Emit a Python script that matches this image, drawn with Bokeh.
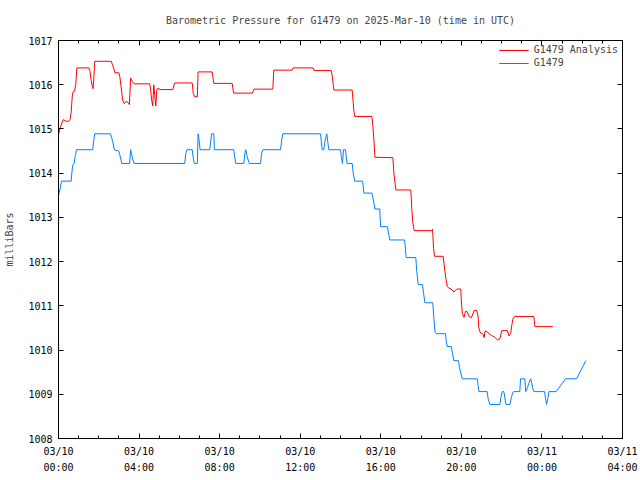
from bokeh.plotting import figure
from bokeh.models import (LinearAxis, FixedTicker, Range1d, Legend, LegendItem,
                          CustomLabelingPolicy)
from bokeh.embed import file_html
from bokeh.resources import INLINE

# ---- data (hours since 2025-03-10 00:00 UTC, pressure in mb) ----
analysis_hours = [0.00, 0.10, 0.18, 0.23, 0.35, 0.50, 0.58, 0.63, 0.68, 0.73, 0.80, 0.86, 0.91,
                  1.51, 1.56, 1.62, 1.67, 1.72, 1.76, 1.80, 2.62, 2.68, 2.75, 2.80, 3.00, 3.05,
                  3.10, 3.15, 3.20, 3.27, 3.35, 3.45, 3.52, 3.58, 3.66, 3.75, 4.53, 4.57, 4.63,
                  4.68, 4.73, 4.78, 4.83, 4.88, 4.93, 5.05, 5.68, 5.76, 6.64, 6.69, 6.76, 6.89,
                  6.93, 7.63, 7.71, 8.62, 8.67, 8.70, 9.63, 9.70, 10.64, 10.69, 11.60, 11.65,
                  12.64, 12.69, 13.54, 13.59, 13.67, 14.58, 14.63, 14.66, 14.71, 15.56, 15.61,
                  15.66, 15.71, 16.60, 16.65, 16.70, 16.75, 17.49, 17.54, 17.59, 17.66, 18.55,
                  18.57, 18.62, 18.67, 19.10, 19.15, 19.22, 19.30, 19.38, 19.50, 19.63, 19.72,
                  19.80, 19.97, 20.00, 20.05, 20.13, 20.21, 20.30, 20.38, 20.50, 20.63, 20.76,
                  20.83, 20.86, 20.93, 21.02, 21.08, 21.13, 21.18, 21.30, 21.38, 21.50, 21.63,
                  21.79, 21.91, 22.01, 22.13, 22.28, 22.36, 22.45, 22.50, 22.56, 22.64, 23.60,
                  23.65, 24.54]
analysis_mb = [1014.87, 1015.05, 1015.15, 1015.21, 1015.18, 1015.17, 1015.22, 1015.38, 1015.72,
               1015.85, 1015.86, 1016.02, 1016.38, 1016.38, 1016.30, 1016.10, 1015.98, 1015.91,
               1016.20, 1016.53, 1016.53, 1016.45, 1016.36, 1016.27, 1016.27, 1016.17, 1015.98,
               1015.79, 1015.63, 1015.57, 1015.62, 1015.60, 1015.55, 1016.15, 1016.08, 1016.02,
               1016.02, 1015.90, 1015.64, 1015.52, 1016.00, 1015.75, 1015.52, 1015.88, 1015.92,
               1015.89, 1015.89, 1016.04, 1016.04, 1015.80, 1015.73, 1015.73, 1016.29, 1016.29,
               1016.03, 1016.03, 1015.88, 1015.81, 1015.81, 1015.90, 1015.90, 1016.33, 1016.33,
               1016.38, 1016.38, 1016.32, 1016.32, 1016.20, 1015.88, 1015.88, 1015.60, 1015.42,
               1015.28, 1015.28, 1015.05, 1014.75, 1014.36, 1014.35, 1014.00, 1013.80, 1013.62,
               1013.62, 1013.20, 1012.88, 1012.70, 1012.70, 1012.73, 1012.30, 1012.12, 1012.12,
               1011.90, 1011.65, 1011.44, 1011.40, 1011.38, 1011.31, 1011.36, 1011.38, 1011.38,
               1011.10, 1010.82, 1010.74, 1010.88, 1010.86, 1010.76, 1010.73, 1010.89, 1010.90,
               1010.77, 1010.52, 1010.40, 1010.38, 1010.36, 1010.28, 1010.43, 1010.41, 1010.36,
               1010.33, 1010.30, 1010.23, 1010.25, 1010.44, 1010.44, 1010.44, 1010.32, 1010.38,
               1010.55, 1010.70, 1010.76, 1010.76, 1010.53, 1010.53]

obs_hours = [0.00, 0.07, 0.15, 0.63, 0.66, 0.71, 0.78, 0.81, 0.85, 0.89, 1.70, 1.73, 1.80, 2.58,
             2.64, 2.70, 2.76, 2.80, 2.99, 3.04, 3.09, 3.14, 3.53, 3.58, 3.63, 3.68, 3.75, 6.27,
             6.32, 6.38, 6.64, 6.69, 6.74, 6.89, 6.93, 6.98, 7.03, 7.51, 7.60, 7.71, 7.74, 8.70,
             8.75, 8.80, 9.20, 9.25, 9.30, 9.35, 9.47, 10.03, 10.08, 10.15, 11.02, 11.08, 11.14,
             13.01, 13.05, 13.09, 13.17, 13.22, 13.27, 13.32, 13.37, 13.42, 14.00, 14.05, 14.10,
             14.15, 14.25, 14.29, 14.33, 14.58, 14.63, 14.71, 15.10, 15.16, 15.56, 15.62, 15.67,
             15.71, 15.95, 15.99, 16.33, 16.38, 16.45, 17.18, 17.22, 17.26, 17.74, 17.78, 17.86,
             18.07, 18.12, 18.19, 18.58, 18.63, 18.70, 18.75, 19.21, 19.25, 19.30, 19.50, 19.55,
             19.63, 19.86, 19.91, 20.04, 20.79, 20.83, 20.87, 21.28, 21.33, 21.41, 21.91, 21.97,
             22.03, 22.11, 22.16, 22.21, 22.41, 22.48, 22.55, 22.61, 22.90, 22.94, 23.15, 23.20,
             23.28, 23.35, 23.44, 23.49, 23.55, 23.60, 24.13, 24.18, 24.23, 24.29, 24.35, 24.71,
             25.17, 25.72, 26.18]
obs_mb = [1013.50, 1013.62, 1013.82, 1013.82, 1014.00, 1014.19, 1014.22, 1014.35, 1014.42, 1014.53,
          1014.53, 1014.68, 1014.89, 1014.89, 1014.80, 1014.70, 1014.55, 1014.52, 1014.50, 1014.42,
          1014.32, 1014.22, 1014.22, 1014.53, 1014.42, 1014.32, 1014.22, 1014.22, 1014.45, 1014.53,
          1014.53, 1014.35, 1014.22, 1014.22, 1014.89, 1014.75, 1014.53, 1014.53, 1014.89, 1014.89,
          1014.53, 1014.53, 1014.35, 1014.22, 1014.22, 1014.45, 1014.53, 1014.40, 1014.22, 1014.22,
          1014.45, 1014.53, 1014.53, 1014.75, 1014.89, 1014.89, 1014.70, 1014.53, 1014.53, 1014.70,
          1014.80, 1014.89, 1014.70, 1014.53, 1014.53, 1014.35, 1014.22, 1014.53, 1014.53, 1014.35,
          1014.22, 1014.22, 1014.00, 1013.82, 1013.82, 1013.55, 1013.55, 1013.42, 1013.30, 1013.19,
          1013.19, 1012.79, 1012.79, 1012.65, 1012.49, 1012.49, 1012.30, 1012.09, 1012.09, 1011.80,
          1011.48, 1011.48, 1011.30, 1011.07, 1011.07, 1010.75, 1010.40, 1010.37, 1010.37, 1010.20,
          1010.08, 1010.08, 1009.95, 1009.76, 1009.76, 1009.60, 1009.35, 1009.35, 1009.20, 1009.06,
          1009.06, 1008.90, 1008.77, 1008.77, 1008.95, 1009.06, 1009.06, 1008.92, 1008.77, 1008.77,
          1008.92, 1009.04, 1009.06, 1009.06, 1009.35, 1009.35, 1009.06, 1009.15, 1009.25, 1009.35,
          1009.25, 1009.12, 1009.06, 1009.06, 1008.90, 1008.77, 1008.90, 1009.06, 1009.06, 1009.35,
          1009.35, 1009.76]

x_tick_hours = [0, 4, 8, 12, 16, 20, 24, 28]
x_tick_labels = ["03/10\n00:00", "03/10\n04:00", "03/10\n08:00", "03/10\n12:00",
                 "03/10\n16:00", "03/10\n20:00", "03/11\n00:00", "03/11\n04:00"]
y_ticks = [1008, 1009, 1010, 1011, 1012, 1013, 1014, 1015, 1016, 1017]

FONT = "DejaVu Sans Mono"
FS = "10px"

p = figure(width=640, height=480, output_backend="svg", toolbar_location=None,
           x_range=Range1d(0, 28), y_range=Range1d(1008, 1017),
           x_axis_location=None, y_axis_location=None,
           min_border_left=58, min_border_right=18, min_border_top=40, min_border_bottom=42)
p.xgrid.visible = False
p.ygrid.visible = False
p.outline_line_color = "black"
p.outline_line_width = 1
p.background_fill_color = "white"
p.border_fill_color = "white"

p.title.text = "Barometric Pressure for G1479 on 2025-Mar-10 (time in UTC)"
p.title.align = "center"
p.title.text_font = FONT
p.title.text_font_size = FS
p.title.text_font_style = "normal"
p.title.standoff = 22

xt = FixedTicker(ticks=x_tick_hours, minor_ticks=list(range(0, 29)))
yt = FixedTicker(ticks=y_ticks, minor_ticks=[])

# mirrored axes: ticks only, no labels drawn
no_labels = CustomLabelingPolicy(code="return new indices.constructor(indices.size)")


def style(ax, fs=FS):
    ax.axis_line_color = "black"
    ax.major_tick_in = 5
    ax.major_tick_out = 0
    ax.minor_tick_in = 3
    ax.minor_tick_out = 0
    ax.major_tick_line_color = "black"
    ax.minor_tick_line_color = "black"
    ax.major_label_text_font = FONT
    ax.major_label_text_font_size = fs
    ax.major_label_text_color = "black"
    ax.axis_label_text_font = FONT
    ax.axis_label_text_font_size = FS
    ax.axis_label_text_font_style = "normal"


bottom = LinearAxis(ticker=xt, major_label_overrides=dict(zip(x_tick_hours, x_tick_labels)))
style(bottom)
bottom.major_label_standoff = 7
bottom.major_label_text_line_height = 1.5
p.add_layout(bottom, "below")

top = LinearAxis(ticker=xt, major_label_policy=no_labels)
style(top, fs="1px")
top.major_label_standoff = 0
p.add_layout(top, "above")

left = LinearAxis(ticker=yt, axis_label="milliBars")
style(left)
left.minor_tick_in = 0
left.major_label_standoff = 6
left.axis_label_standoff = 10
p.add_layout(left, "left")

right = LinearAxis(ticker=yt, major_label_policy=no_labels)
style(right, fs="1px")
right.minor_tick_in = 0
right.major_label_standoff = 0
p.add_layout(right, "right")

r_an = p.line(analysis_hours, analysis_mb, line_color="#ff0000", line_width=1)
r_ob = p.line(obs_hours, obs_mb, line_color="#0080ff", line_width=1)

legend = Legend(items=[LegendItem(label="G1479 Analysis", renderers=[r_an]),
                       LegendItem(label="G1479", renderers=[r_ob])],
                location="top_right")
legend.label_text_font = FONT
legend.label_text_font_size = FS
legend.border_line_color = None
legend.background_fill_alpha = 0
legend.glyph_width = 30
legend.glyph_height = 10
legend.label_height = 10
legend.spacing = 2
legend.padding = 4
legend.margin = 4
p.add_layout(legend, "center")

open("out.html", "w").write(file_html(p, INLINE))
